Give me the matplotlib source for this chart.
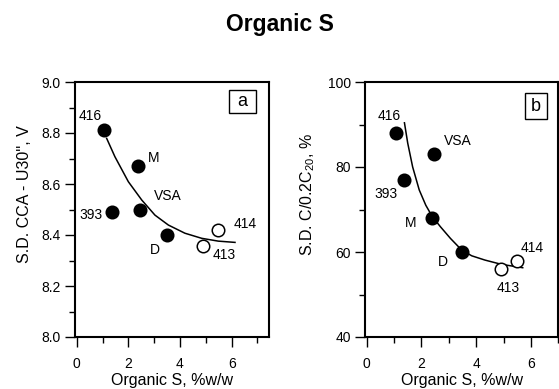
import matplotlib
matplotlib.use("Agg")
import matplotlib.pyplot as plt
from matplotlib.patches import Rectangle

plt.rcParams['font.family'] = ['Liberation Sans', 'DejaVu Sans']
plt.rcParams['mathtext.fontset'] = 'custom'
plt.rcParams['mathtext.rm'] = 'Liberation Sans'
plt.rcParams['mathtext.it'] = 'Liberation Sans'

# Samples and their organic sulphur content (%w/w)
samples = ["416", "393", "M", "VSA", "D", "413", "414"]
organic_s = [1.07, 1.38, 2.38, 2.47, 3.48, 4.89, 5.48]
filled = [True, True, True, True, True, False, False]

# Panel a: S.D. CCA - U30'' (V)
cca_u30 = [8.81, 8.49, 8.67, 8.50, 8.40, 8.355, 8.42]
# Panel b: S.D. C/0.2C20 (%)
c_ratio = [88.0, 77.0, 68.0, 83.0, 60.0, 56.0, 58.0]

# Trend curves
trend_a_x = [1.16, 1.48, 2.00, 2.52, 3.03, 3.55, 4.19, 4.84, 5.48, 6.13]
trend_a_y = [8.779, 8.707, 8.609, 8.537, 8.478, 8.439, 8.407, 8.387, 8.376, 8.371]
trend_b_x = [1.38, 1.50, 1.68, 1.92, 2.16, 2.40, 2.70, 3.06, 3.48, 3.84, 4.32, 4.92, 5.70]
trend_b_y = [90.4, 85.6, 80.0, 74.6, 71.0, 68.3, 65.9, 63.2, 60.4, 59.1, 58.1, 57.1, 56.3]

# Label offsets in pixels (dx, dy) from each point
offsets_a = [(-14, 14), (-21, -3), (15, 8), (27, 13), (-12, -15), (21, -9), (27, 6)]
offsets_b = [(-7, 17), (-18, -14), (-21, -5), (24, 13), (-19, -10), (8, -19), (15, 13)]

W, H = 559, 389
fig = plt.figure(figsize=(W / 100, H / 100), dpi=100)


def px_axes(left, right, top, bottom):
    return fig.add_axes([left / W, (H - bottom) / H, (right - left) / W, (bottom - top) / H])


ax_a = px_axes(75.4, 269.1, 82, 337)
ax_b = px_axes(365.3, 558.3, 82, 337)


def draw_panel(ax, yvals, tx, ty, offsets, xlim, ylim, yticks, yminor, yfmt, letter, box):
    ax.plot(tx, ty, color="black", lw=1.1, zorder=2)
    for xv, yv, f, name, (dx, dy) in zip(organic_s, yvals, filled, samples, offsets):
        ax.plot(xv, yv, "o", ms=9, mfc="black" if f else "white",
                mec="black", mew=1.1, zorder=3)
        ax.annotate(name, (xv, yv), xytext=(dx, dy), textcoords="offset pixels",
                    ha="center", va="center", fontsize=10)
    ax.set_xlim(*xlim)
    ax.set_ylim(*ylim)
    ax.set_xticks([0, 2, 4, 6])
    ax.set_xticks([1, 3, 5, 7], minor=True)
    ax.set_yticks(yticks)
    ax.set_yticklabels([yfmt.format(v) for v in yticks])
    ax.set_yticks(yminor, minor=True)
    ax.tick_params(which="major", direction="out", length=7.5, width=1.0,
                   labelsize=10, color="black")
    ax.tick_params(axis="x", which="major", pad=7)
    ax.tick_params(axis="y", which="major", pad=3)
    ax.tick_params(which="minor", direction="out", length=4, width=1.0)
    for sp in ax.spines.values():
        sp.set_linewidth(1.5)
    ax.set_xlabel("Organic S, %w/w", fontsize=11.5, labelpad=1)
    x0, y0, x1, y1 = box
    ax.add_patch(Rectangle((x0, y0), x1 - x0, y1 - y0, transform=ax.transAxes,
                           fill=False, lw=1.0, ec="black", clip_on=False))
    ax.text((x0 + x1) / 2, (y0 + y1) / 2, letter, transform=ax.transAxes,
            ha="center", va="center", fontsize=13)


draw_panel(ax_a, cca_u30, trend_a_x, trend_a_y, offsets_a, (-0.05, 7.45), (8.0, 9.0),
           [8.0, 8.2, 8.4, 8.6, 8.8, 9.0], [8.1, 8.3, 8.5, 8.7, 8.9], "{:.1f}", "a",
           (0.793, 0.878, 0.93, 0.967))
draw_panel(ax_b, c_ratio, trend_b_x, trend_b_y, offsets_b, (-0.05, 6.9), (40, 100),
           [40, 60, 80, 100], [50, 70, 90], "{:.0f}", "b",
           (0.830, 0.853, 0.939, 0.955))

fig.text(25 / W, 0.5, "S.D. CCA - U30'', V", rotation=90, ha="center", va="center",
         fontsize=11.5)
fig.text(308 / W, 0.5, r"S.D. C/0.2C$_{20}$, %", rotation=90, ha="center", va="center",
         fontsize=11.5)
fig.text(280 / W, 1 - 25 / H, "Organic S", ha="center", va="center",
         fontsize=16.5, fontweight="bold")

fig.savefig("out.png", dpi=100)
